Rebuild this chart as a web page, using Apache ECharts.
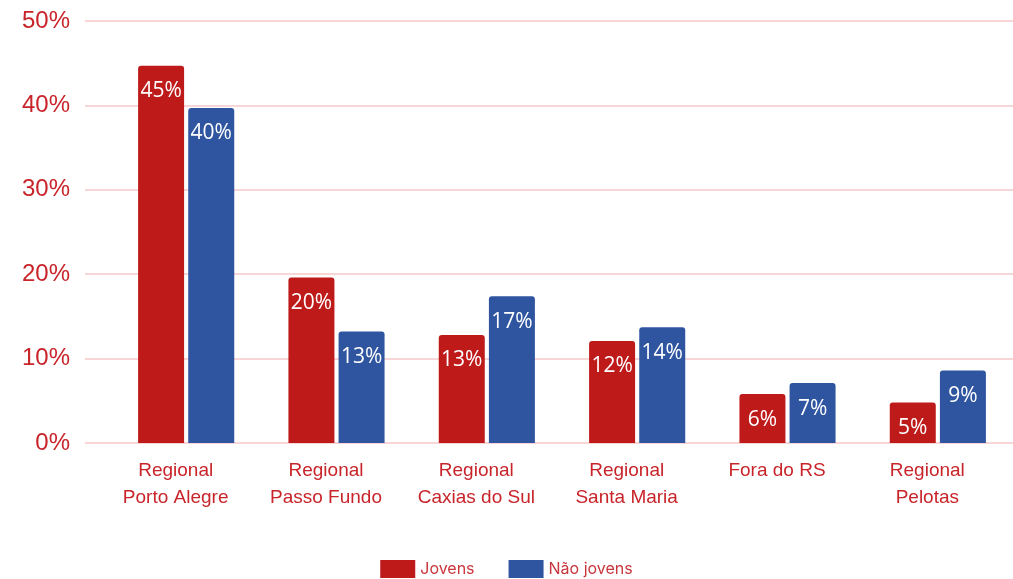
<!DOCTYPE html>
<html>
<head>
<meta charset="utf-8">
<script src="https://cdn.jsdelivr.net/npm/echarts@6/dist/echarts.min.js"></script>
<style>
  html, body { margin: 0; padding: 0; background: #fff; }
  #chart { width: 1013px; height: 579px; }
</style>
</head>
<body>
<div id="chart"></div>
<script>
const categories = [
  'Regional\nPorto Alegre',
  'Regional\nPasso Fundo',
  'Regional\nCaxias do Sul',
  'Regional\nSanta Maria',
  'Fora do RS',
  'Regional\nPelotas'
];
const jovens = [44.7, 19.6, 12.8, 12.1, 5.8, 4.8];
const naoJovens = [39.7, 13.2, 17.4, 13.7, 7.1, 8.6];
const yTicks = [0, 10, 20, 30, 40, 50];

const red = '#BE1A1A';
const blue = '#2F55A1';
const textRed = '#C8242A';
const gridPink = '#F5C9CB';

const chart = echarts.init(document.getElementById('chart'));

const barLabel = {
  show: true,
  position: 'insideTop',
  distance: 15,
  color: '#fff',
  fontSize: 21,
  fontFamily: 'Open Sans',
  formatter: p => Math.round(p.value) + '%'
};

chart.setOption({
  animation: false,
  legend: {
    top: 555,
    left: 'center',
    itemWidth: 35,
    itemHeight: 18,
    itemGap: 34,
    icon: 'rect',
    textStyle: { color: '#C8363C', fontSize: 16, fontFamily: 'Inter' },
    data: ['Jovens', 'Não jovens']
  },
  grid: [
    { left: 85, right: 0, top: 21, bottom: 136 },
    { left: 111, right: 0, top: 21, bottom: 136 }
  ],
  xAxis: [
    { gridIndex: 0, type: 'category', data: categories, show: false },
    {
      gridIndex: 1,
      type: 'category',
      data: categories,
      axisLine: { show: false },
      axisTick: { show: false },
      axisLabel: {
        interval: 0,
        color: textRed,
        fontSize: 19,
        fontFamily: 'Liberation Sans',
        lineHeight: 27,
        margin: 14,
        padding: [0, 21, 0, 0]
      }
    }
  ],
  yAxis: [
    {
      gridIndex: 0,
      type: 'value',
      min: yTicks[0],
      max: yTicks[yTicks.length - 1],
      interval: 10,
      axisLine: { show: false },
      axisTick: { show: false },
      axisLabel: {
        color: textRed,
        fontSize: 24,
        fontFamily: 'Liberation Sans',
        margin: 15,
        formatter: '{value}%'
      },
      splitLine: { lineStyle: { color: gridPink, width: 1.5 } }
    },
    {
      gridIndex: 1,
      type: 'value',
      min: yTicks[0],
      max: yTicks[yTicks.length - 1],
      interval: 10,
      show: false,
      splitLine: { show: false }
    }
  ],
  series: [
    {
      name: 'Jovens',
      type: 'bar',
      xAxisIndex: 1,
      yAxisIndex: 1,
      data: jovens,
      barWidth: 46,
      barGap: '9%',
      itemStyle: { color: red, borderRadius: [3, 3, 0, 0] },
      label: barLabel
    },
    {
      name: 'Não jovens',
      type: 'bar',
      xAxisIndex: 1,
      yAxisIndex: 1,
      data: naoJovens,
      barWidth: 46,
      barGap: '9%',
      itemStyle: { color: blue, borderRadius: [3, 3, 0, 0] },
      label: barLabel
    }
  ]
});
</script>
</body>
</html>
